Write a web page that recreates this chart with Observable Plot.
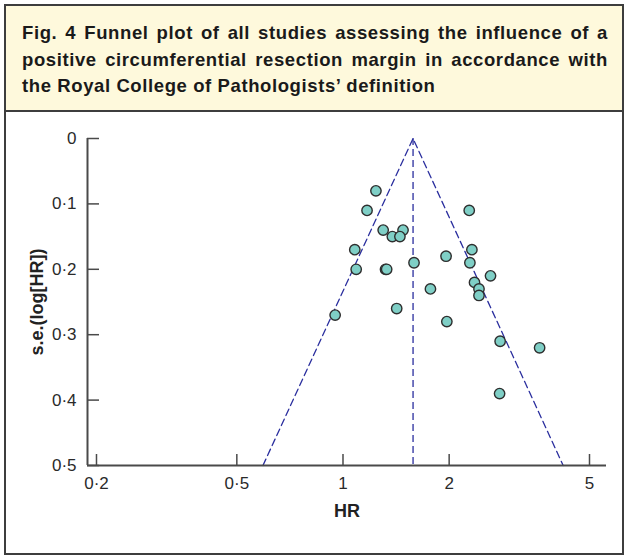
<!DOCTYPE html>
<html>
<head>
<meta charset="utf-8">
<script src="https://cdn.jsdelivr.net/npm/d3@7"></script>
<script src="https://cdn.jsdelivr.net/npm/@observablehq/plot@0.6"></script>
<style>
  html, body { margin: 0; padding: 0; background: #fff; }
  body { width: 627px; height: 559px; position: relative; overflow: hidden; font-family: "Liberation Sans", Arial, sans-serif; }
  #frame { position: absolute; left: 4px; top: 4px; width: 620px; height: 551px; box-sizing: border-box; border: 2px solid #3d3d3d; }
  #title { position: absolute; left: 0; top: 0; right: 0; height: 106px; box-sizing: border-box; background: #fef9dc; border-bottom: 2px solid #3d3d3d;
           padding: 14px 14px 0 16px; font-weight: bold; font-size: 18.5px; letter-spacing: 0.6px; line-height: 26.5px; color: #1a1a1a; }
  #title .j { text-align: justify; text-align-last: justify; white-space: nowrap; }
  #chart { position: absolute; left: 0; top: 114px; }
</style>
</head>
<body>
<div id="frame"><div id="title"></div></div>
<div id="chart"></div>
<script>
// Title lines
const titleLines = [
  "Fig. 4 Funnel plot of all studies assessing the influence of a",
  "positive circumferential resection margin in accordance with",
  "the Royal College of Pathologists’ definition"
];
// Study estimates
const hr = [1.24, 1.17, 2.28, 1.30, 1.48, 1.38, 1.45, 1.08, 2.32, 1.96, 1.59, 2.29, 1.09, 1.32, 1.33, 2.62, 2.36, 2.43, 1.77, 2.43, 1.42, 0.95, 1.97, 2.79, 3.61, 2.78];
const se = [0.08, 0.11, 0.11, 0.14, 0.14, 0.15, 0.15, 0.17, 0.17, 0.18, 0.19, 0.19, 0.20, 0.20, 0.20, 0.21, 0.22, 0.23, 0.23, 0.24, 0.26, 0.27, 0.28, 0.31, 0.32, 0.39];
const pooledHR = 1.58;
const z = 1.96;
const seMax = 0.5;
const xTicks = [0.2, 0.5, 1, 2, 5];
const xTickLabels = ["0·2", "0·5", "1", "2", "5"];
const yTicks = [0, 0.1, 0.2, 0.3, 0.4, 0.5];
const yTickLabels = ["0", "0·1", "0·2", "0·3", "0·4", "0·5"];
const xDomain = [0.1886, 5.587];

const titleEl = document.getElementById("title");
titleLines.forEach((t, i) => {
  const d = document.createElement("div");
  d.textContent = t;
  if (i < titleLines.length - 1) d.className = "j";
  titleEl.appendChild(d);
});

const studies = hr.map((h, i) => ({hr: h, se: se[i]}));
const funnel = [
  {hr: Math.exp(Math.log(pooledHR) - z * seMax), se: seMax},
  {hr: pooledHR, se: 0},
  {hr: Math.exp(Math.log(pooledHR) + z * seMax), se: seMax}
];

const axisColor = "#4a4a4a";
const blue = "#2a2e9e";

const chart = Plot.plot({
  width: 627,
  height: 436,
  marginLeft: 87,
  marginRight: 21,
  marginTop: 24,
  marginBottom: 85,
  style: {background: "transparent", fontFamily: "Liberation Sans, Arial, sans-serif", fontSize: "17px", color: "#222"},
  x: {type: "log", domain: xDomain, axis: null},
  y: {domain: [0, seMax], reverse: true, axis: null},
  marks: [
    // funnel
    Plot.line(funnel, {x: "hr", y: "se", stroke: blue, strokeWidth: 1.3, strokeDasharray: "7,4"}),
    Plot.ruleX([pooledHR], {y1: 0, y2: seMax, stroke: blue, strokeWidth: 1.3, strokeDasharray: "7,4"}),
    // axes lines
    Plot.ruleX([xDomain[0]], {y1: 0, y2: seMax, stroke: axisColor, strokeWidth: 2}),
    Plot.ruleY([seMax], {x1: xDomain[0], x2: xDomain[1], stroke: axisColor, strokeWidth: 2}),
    // ticks (inward) and labels
    Plot.axisY({ticks: yTicks, tickSize: -12, tickFormat: () => "", stroke: axisColor, strokeWidth: 1.5, label: null}),
    Plot.axisY({ticks: yTicks, tickSize: 0, tickPadding: 11, tickFormat: d => yTickLabels[yTicks.indexOf(d)], fill: "#2a2a2a", fontSize: 17, label: null}),
    Plot.axisX({ticks: xTicks, tickSize: -11, tickFormat: () => "", stroke: axisColor, strokeWidth: 1.5, anchor: "bottom", label: null}),
    Plot.axisX({ticks: xTicks, tickSize: 0, tickPadding: 11, tickFormat: d => xTickLabels[xTicks.indexOf(d)], fill: "#2a2a2a", fontSize: 17, anchor: "bottom", label: null}),
    // points
    Plot.dot(studies, {x: "hr", y: "se", r: 5.2, fill: "#7fcfc6", stroke: "#2e2e2e", strokeWidth: 1.4}),
    // axis titles
    Plot.text(["HR"], {frameAnchor: "bottom", dy: 51, fontWeight: "bold", fontSize: 18, fill: "#222", textAnchor: "middle"}),
    Plot.text(["s.e.(log[HR])"], {frameAnchor: "left", dx: -50, rotate: -90, textAnchor: "middle", fontWeight: "bold", fontSize: 18, fill: "#222"})
  ]
});
document.getElementById("chart").appendChild(chart);
</script>
</body>
</html>
